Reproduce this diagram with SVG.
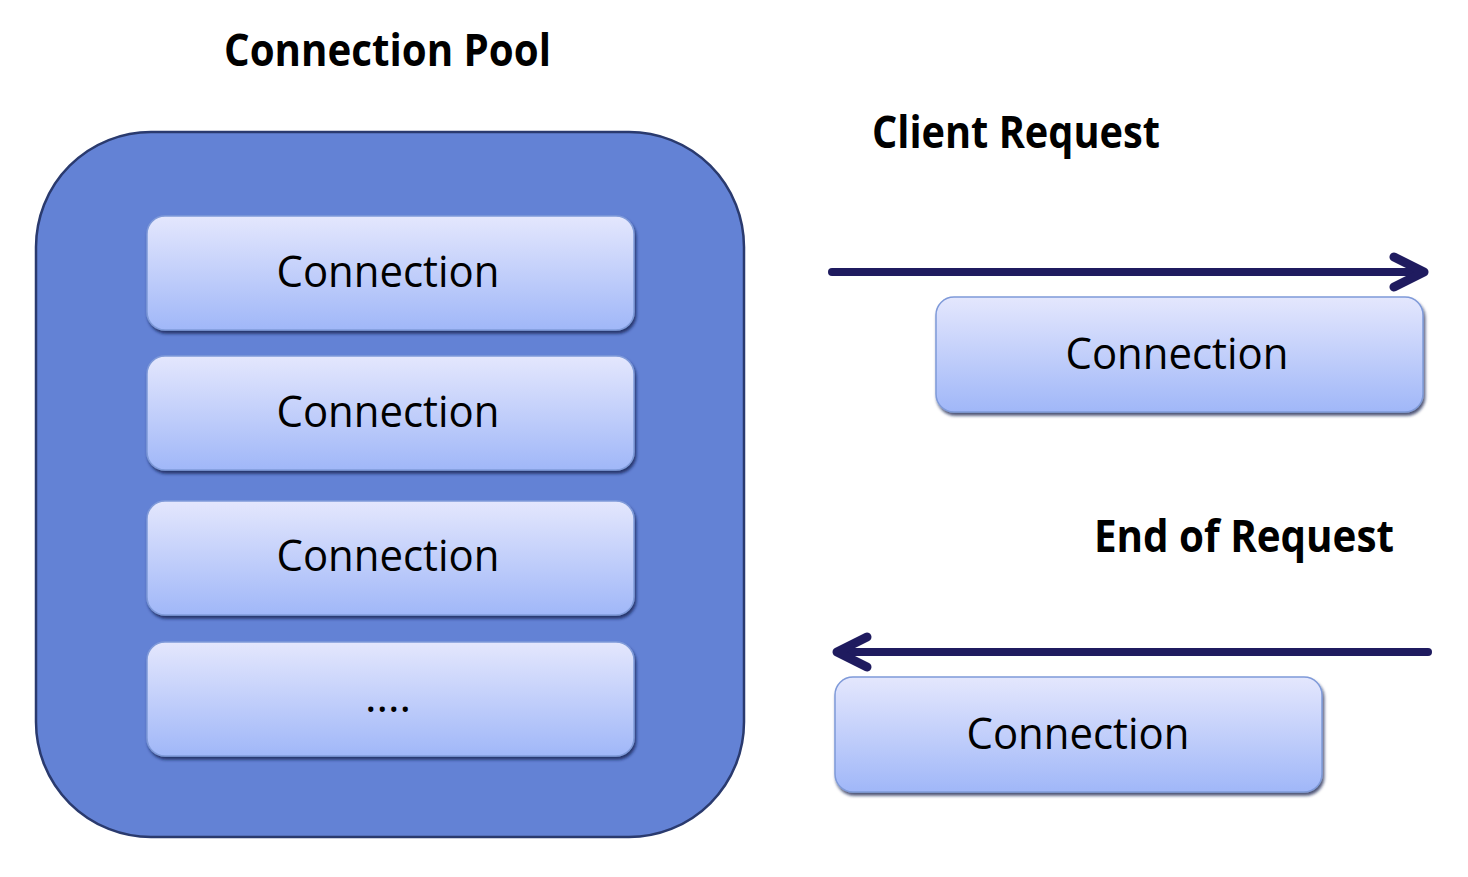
<svg xmlns="http://www.w3.org/2000/svg" width="1468" height="877" viewBox="0 0 1468 877">
<defs>
<linearGradient id="g" x1="0" y1="0" x2="0" y2="1">
<stop offset="0" stop-color="#e4e7fd"/>
<stop offset="1" stop-color="#a0b7f8"/>
</linearGradient>
<filter id="sh" x="-5%" y="-10%" width="115%" height="130%">
<feDropShadow dx="1.5" dy="3" stdDeviation="1.8" flood-color="#141e4a" flood-opacity="0.75"/>
</filter>
<style>
.box{fill:url(#g);stroke:#7f9ad9;stroke-width:1.5;filter:url(#sh)}
.lbl{font-family:"Open Sans","Liberation Sans",sans-serif;font-size:44px;fill:#000;text-anchor:middle}
.ttl{font-family:"Open Sans","Liberation Sans",sans-serif;font-size:44px;font-weight:bold;fill:#000}
.arr{fill:none;stroke:#1f1b5f;stroke-width:8;stroke-linecap:round;stroke-linejoin:round}
.head{fill:none;stroke:#1f1b5f;stroke-width:9;stroke-linecap:round;stroke-linejoin:round}
</style>
</defs>
<rect width="1468" height="877" fill="#fff"/>
<text class="ttl" x="224" y="66" textLength="327" lengthAdjust="spacingAndGlyphs">Connection Pool</text>
<text class="ttl" x="872" y="148" textLength="288" lengthAdjust="spacingAndGlyphs">Client Request</text>
<text class="ttl" x="1094" y="552" textLength="300" lengthAdjust="spacingAndGlyphs">End of Request</text>
<g id="pool">
<rect x="36" y="132" width="708" height="705" rx="115" ry="115" fill="#6382d5" stroke="#2a3a6e" stroke-width="2.5"/>
</g>
<g id="conn1">
<rect class="box" x="147" y="216" width="487" height="114" rx="18"/>
<text class="lbl" x="388" y="287" textLength="223" lengthAdjust="spacingAndGlyphs">Connection</text>
</g>
<g id="conn2">
<rect class="box" x="147" y="356" width="487" height="114" rx="18"/>
<text class="lbl" x="388" y="427" textLength="223" lengthAdjust="spacingAndGlyphs">Connection</text>
</g>
<g id="conn3">
<rect class="box" x="147" y="501" width="487" height="114" rx="18"/>
<text class="lbl" x="388" y="571" textLength="223" lengthAdjust="spacingAndGlyphs">Connection</text>
</g>
<g id="conn4">
<rect class="box" x="147" y="642" width="487" height="114" rx="18"/>
<text class="lbl" x="388" y="712">....</text>
</g>
<g id="connOut">
<rect class="box" x="936" y="297" width="487" height="115" rx="18"/>
<text class="lbl" x="1177" y="369" textLength="223" lengthAdjust="spacingAndGlyphs">Connection</text>
</g>
<g id="connIn">
<rect class="box" x="835" y="677" width="487" height="115" rx="18"/>
<text class="lbl" x="1078" y="749" textLength="223" lengthAdjust="spacingAndGlyphs">Connection</text>
</g>
<g id="connectors">
<line class="arr" x1="832" y1="272" x2="1420" y2="272" stroke-linecap="butt"/>
<polyline class="head" points="1394,257 1424,272 1394,287"/>
<line class="arr" x1="1428" y1="652" x2="842" y2="652" stroke-linecap="butt"/>
<polyline class="head" points="867,637 837,652 867,667"/>
</g>
</svg>
